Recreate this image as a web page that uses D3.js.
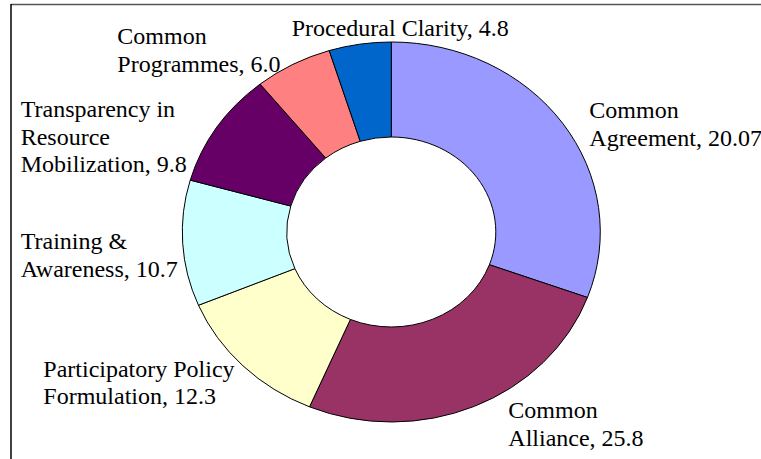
<!DOCTYPE html>
<html lang="en">
  <head>
    <meta charset="utf-8">
    <title>Donut chart</title>
    <script src="https://d3js.org/d3.v7.min.js"></script>
    <style>
      body {
        margin: 0px;
        padding: 0px;
        background: #ffffff;
      }
    </style>
  </head>
  <body>
    <div id="my_dataviz"></div>

    <script>
    // Categories, clockwise from 12 o'clock
    var categories = ["Common Agreement", "Common Alliance", "Participatory Policy Formulation",
                      "Training & Awareness", "Transparency in Resource Mobilization",
                      "Common Programmes", "Procedural Clarity"];
    // slice sizes as drawn in the picture
    var values = [30.6, 25.8, 12.3, 10.7, 9.8, 6.0, 4.8];
    // value text printed on each label
    var valueLabels = ["20.07", "25.8", "12.3", "10.7", "9.8", "6.0", "4.8"];
    // label lines as they wrap in the picture
    var labelLines = [
      ["Common", "Agreement, 20.07"],
      ["Common", "Alliance, 25.8"],
      ["Participatory Policy", "Formulation, 12.3"],
      ["Training &", "Awareness, 10.7"],
      ["Transparency in", "Resource", "Mobilization, 9.8"],
      ["Common", "Programmes, 6.0"],
      ["Procedural Clarity, 4.8"]
    ];
    var colors = ["#9999FF", "#993366", "#FFFFCC", "#CCFFFF", "#660066", "#FF8080", "#0066CC"];

    var width = 761, height = 459;

    // donut geometry (picture is a bit wider than tall)
    var cx = 391.3, cy = 232,
        rx = 209, ry = 190;

    var svg = d3.select("#my_dataviz")
      .append("svg")
        .attr("width", width)
        .attr("height", height);

    // chart frame (only top and left show)
    svg.append("line")
      .attr("x1", 11).attr("x2", width)
      .attr("y1", 4.5).attr("y2", 4.5)
      .attr("stroke", "#555555")
      .attr("stroke-width", 1.5);
    svg.append("line")
      .attr("x1", 11).attr("x2", 11)
      .attr("y1", 4).attr("y2", height)
      .attr("stroke", "#000000")
      .attr("stroke-width", 1.5);

    var pie = d3.pie()
      .sort(null)
      .value(function(d) { return d; });

    var arc = d3.arc()
      .innerRadius(ry * 0.5)
      .outerRadius(ry);

    var g = svg.append("g")
      .attr("transform", "translate(" + cx + "," + cy + ") scale(" + (rx / ry) + ",1)");

    g.selectAll("path")
      .data(pie(values))
      .enter()
      .append("path")
        .attr("d", arc)
        .attr("fill", function(d, i) { return colors[i]; })
        .attr("stroke", "#000000")
        .attr("stroke-width", 1)
        .attr("vector-effect", "non-scaling-stroke");

    // label positions (left x, first baseline), line step
    var labelX = [589.3, 508.3, 43.3, 20.7, 20.7, 117.3, 291.7];
    var labelY = [118.3, 418.3, 376.7, 249.3, 117.3, 44.3, 36];
    var lineStep = 27.2;

    var labels = svg.selectAll(".lbl")
      .data(labelLines)
      .enter()
      .append("text")
        .attr("class", "lbl")
        .attr("x", function(d, i) { return labelX[i]; })
        .attr("y", function(d, i) { return labelY[i]; })
        .attr("font-family", "Liberation Serif")
        .attr("font-size", 24)
        .attr("fill", "#000000");

    labels.selectAll("tspan")
      .data(function(d, i) { return d.map(function(t) { return {t: t, i: i}; }); })
      .enter()
      .append("tspan")
        .attr("x", function(d) { return labelX[d.i]; })
        .attr("y", function(d, j) { return labelY[d.i] + j * lineStep; })
        .text(function(d) { return d.t; });
    </script>
  </body>
</html>
